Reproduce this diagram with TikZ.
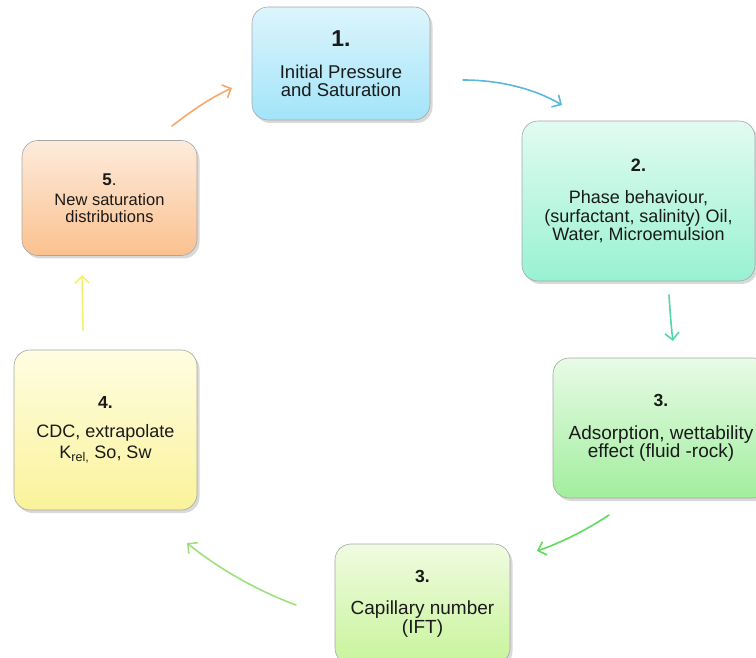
\documentclass[tikz,border=0pt]{standalone}
\usepackage{fontspec}
\setmainfont{Liberation Sans}
\usetikzlibrary{arrows.meta,shadows}

\definecolor{c1top}{HTML}{DDF5FC}\definecolor{c1bot}{HTML}{A2E4F9}
\definecolor{c2top}{HTML}{E2FBF1}\definecolor{c2bot}{HTML}{98F2D2}
\definecolor{c3top}{HTML}{E8FBE6}\definecolor{c3bot}{HTML}{A2EE9E}
\definecolor{c4top}{HTML}{F0FBE0}\definecolor{c4bot}{HTML}{C8F49C}
\definecolor{c5top}{HTML}{FFFDE2}\definecolor{c5bot}{HTML}{FAF39A}
\definecolor{c6top}{HTML}{FDEBDC}\definecolor{c6bot}{HTML}{FBC18F}
\definecolor{a1}{HTML}{5CB8D6}\definecolor{a2}{HTML}{55D6A8}
\definecolor{a3}{HTML}{5EDC5E}\definecolor{a4}{HTML}{9CE27C}
\definecolor{a5}{HTML}{F2F270}\definecolor{a6}{HTML}{F8A868}
\definecolor{ink}{HTML}{1A1A1A}

\newcommand{\stagenum}[2]{{\fontsize{#1}{#1}\selectfont\bfseries #2}}

\tikzset{
  stage/.style={draw=black!35, line width=0.6pt, rounded corners=16pt,
    align=center, inner sep=0pt, text=ink,
    drop shadow={opacity=0.3, shadow xshift=2.5pt, shadow yshift=-3pt}},
  flow/.style={line width=1.6pt, line cap=round,
    -{Straight Barb[length=7pt,width=14pt,line width=1.6pt]}}
}

\begin{document}
\begin{tikzpicture}[x=1pt,y=-1pt]
\useasboundingbox (0,0) rectangle (756,658);

\node[stage, top color=c1top, bottom color=c1bot,
  minimum width=178pt, minimum height=113pt,
  font=\fontsize{18.5}{18.5}\selectfont] (s1) at (341,63.5)
  {\stagenum{23}{1.}\\[13.5pt]Initial Pressure\\and Saturation};

\node[stage, top color=c2top, bottom color=c2bot,
  minimum width=233pt, minimum height=160pt,
  font=\fontsize{18}{18.5}\selectfont] (s2) at (638.5,201)
  {\stagenum{18}{2.}\\[14pt]Phase behaviour,\\(surfactant, salinity) Oil,\\Water, Microemulsion};

\node[stage, top color=c3top, bottom color=c3bot,
  minimum width=216pt, minimum height=140pt,
  font=\fontsize{19}{18.5}\selectfont] (s3) at (661,428)
  {\stagenum{17.5}{3.}\\[14pt]Adsorption, wettability\\effect (fluid -rock)};

\node[stage, top color=c4top, bottom color=c4bot,
  minimum width=175pt, minimum height=120pt,
  font=\fontsize{19}{19}\selectfont] (s4) at (422.5,604)
  {\stagenum{17.5}{3.}\\[13pt]Capillary number\\(IFT)};

\node[stage, top color=c5top, bottom color=c5bot,
  minimum width=183pt, minimum height=160pt,
  font=\fontsize{18}{21}\selectfont] (s5) at (105.5,430)
  {\stagenum{17.5}{4.}\\[8pt]CDC, extrapolate\\K\textsubscript{rel,} So, Sw};

\node[stage, top color=c6top, bottom color=c6bot,
  minimum width=175pt, minimum height=115pt,
  font=\fontsize{16.5}{17}\selectfont] (s6) at (109.5,198)
  {{\fontsize{17}{17}\selectfont\textbf{5}.}\\[3pt]New saturation\\distributions};

% arrow end points
\coordinate (p1s) at (463,80);  \coordinate (p1e) at (562,105);
\coordinate (p2s) at (669,295); \coordinate (p2e) at (673,341);
\coordinate (p3s) at (609,515); \coordinate (p3e) at (537,551);
\coordinate (p4s) at (296,605); \coordinate (p4e) at (187,543);
\coordinate (p5s) at (83,330);  \coordinate (p5e) at (82,275);
\coordinate (p6s) at (172,126); \coordinate (p6e) at (232,88);

\draw[flow, a1] (p1s) .. controls (500,80) and (535,89) .. (p1e);
\draw[flow, a2] (p2s) .. controls (670,310) and (671,326) .. (p2e);
\draw[flow, a3] (p3s) .. controls (585,531) and (560,543) .. (p3e);
\draw[flow, a4] (p4s) .. controls (255,590) and (215,566) .. (p4e);
\draw[flow, a5] (p5s) -- (p5e);
\draw[flow, a6] (p6s) .. controls (190,112) and (210,98) .. (p6e);
\end{tikzpicture}
\end{document}
